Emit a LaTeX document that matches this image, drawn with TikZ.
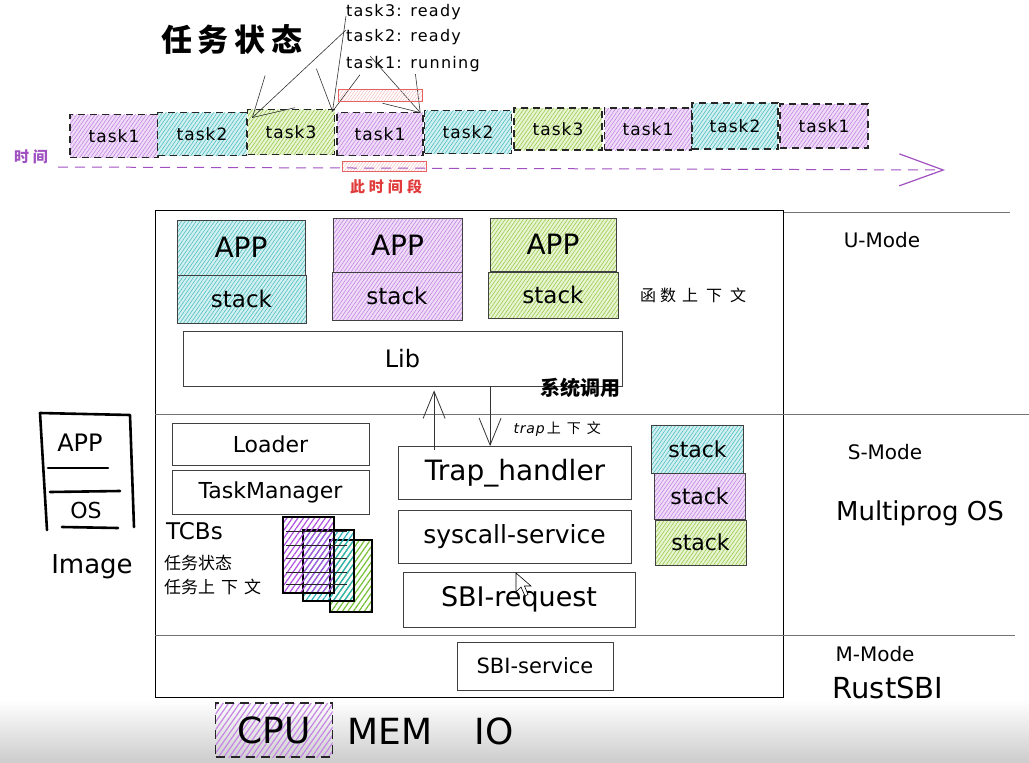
\documentclass[tikz,border=0pt]{standalone}
\usepackage{fontspec}
\setmainfont{DejaVu Sans}
\newfontfamily\cjk{Noto Sans CJK SC}
\usetikzlibrary{patterns.meta,arrows.meta,calc}
\definecolor{pfill}{HTML}{EFDDF8}\definecolor{pline}{HTML}{C585E4}
\definecolor{cfill}{HTML}{D3F0F0}\definecolor{cline}{HTML}{4EBFC4}
\definecolor{gfill}{HTML}{E8F4D2}\definecolor{gline}{HTML}{98CC4C}
\definecolor{spurple}{HTML}{B050E0}\definecolor{scyan}{HTML}{2BB3BE}\definecolor{sgreen}{HTML}{76C034}
\definecolor{tpurple}{HTML}{A050C0}
\definecolor{tred}{HTML}{E03A3A}
\newcommand{\fs}[1]{\fontsize{#1}{#1}\selectfont}
\newcommand{\ls}[1]{\addfontfeature{LetterSpace=#1}}
\tikzset{
  hatch/.style 2 args={preaction={fill=#1}, pattern={Lines[angle=55,distance=3pt,line width=0.6pt]}, pattern color=#2},
  thatch/.style={pattern={Lines[angle=55,distance=4.5pt,line width=1.2pt]}, pattern color=#1},
  taskbox/.style={draw=black!85, line width=1.1pt, dash pattern=on 7pt off 5pt, inner sep=0pt, font=\fs{17}\ls{6}},
  plainbox/.style={draw=black!75, line width=0.8pt, inner sep=0pt},
  redbox/.style={draw=tred!80, line width=0.7pt, inner sep=0pt, pattern={Lines[angle=55,distance=2.5pt,line width=0.4pt]}, pattern color=tred!40},
  sarrow/.style={draw=black!80, line width=0.8pt, -{Straight Barb[length=27pt,width=22pt,line width=0.8pt]}},
  larrow/.style={draw=black!80, line width=0.6pt, -{Straight Barb[length=#1,width=44pt,line width=0.6pt]}},
  divider/.style={draw=black!55, line width=1pt},
  modelab/.style={font=\fs{20}},
  statlab/.style={anchor=west, inner sep=0pt, font=\fs{16}\ls{8}},
}
\begin{document}
\begin{tikzpicture}[x=1pt,y=-1pt]
\useasboundingbox (0,0) rectangle (1029,763);
\shade[top color=white, bottom color=black!20] (0,700) rectangle (1029,763);

% ---------- title & status labels ----------
\node[font=\cjk\bfseries\fs{31}] (title) at (232,40) {任\hspace{6pt}务\hspace{6pt}状\hspace{6pt}态};
\node[statlab] (t3lab) at (346,12) {task3: ready};
\node[statlab] (t2lab) at (346,37) {task2: ready};
\node[statlab] (t1lab) at (346,64) {task1: running};

% ---------- task boxes ----------
\node[taskbox, hatch={pfill}{pline}, minimum width=88pt, minimum height=43pt] (b1) at (114,136) {task1};
\node[taskbox, hatch={cfill}{cline}, minimum width=89pt, minimum height=43pt] (b2) at (202,134) {task2};
\node[taskbox, hatch={gfill}{gline}, minimum width=87pt, minimum height=45pt] (b3) at (291,132) {task3};
\node[taskbox, hatch={pfill}{pline}, minimum width=86pt, minimum height=43pt] (b4) at (380,134) {task1};
\node[taskbox, hatch={cfill}{cline}, minimum width=87pt, minimum height=43pt] (b5) at (468,132) {task2};
\node[taskbox, hatch={gfill}{gline}, minimum width=88pt, minimum height=42pt] (b6) at (558,129) {task3};
\node[taskbox, hatch={pfill}{pline}, minimum width=87pt, minimum height=42pt] (b7) at (648,129) {task1};
\node[taskbox, hatch={cfill}{cline}, minimum width=86pt, minimum height=46pt] (b8) at (735,126) {task2};
\node[taskbox, hatch={pfill}{pline}, minimum width=88pt, minimum height=44pt] (b9) at (824,126) {task1};

% status arrows
\draw[larrow=38pt] ([yshift=7pt]t2lab.west) -- ([xshift=5pt,yshift=-9pt]b3.north west);
\draw[larrow=40pt] ([yshift=-4pt]t3lab.west) -- ([xshift=-4pt]b4.north west);
\draw[larrow=32pt] ([xshift=24pt,yshift=8pt]t1lab.west) -- ([xshift=-3pt,yshift=-1pt]b4.north east);

% red highlight boxes
\node[redbox, minimum width=84pt, minimum height=12pt] (r1) at (380,95) {};
\node[redbox, minimum width=84pt, minimum height=10pt] (r2) at (384,166) {};
\node[text=tred, font=\cjk\bfseries\fs{15}] (seg) at (386,187) {此\hspace{4pt}时\hspace{4pt}间\hspace{4pt}段};

% timeline
\node[text=tpurple, font=\cjk\bfseries\fs{15}] (timelab) at (31,157) {时\hspace{4pt}间};
\coordinate (tstart) at (58,167);
\coordinate (tend) at (945,170);
\draw[tpurple, line width=1pt, dash pattern=on 10pt off 7pt, -{Straight Barb[length=44pt,width=32pt,line width=1.2pt]}] (tstart) -- (tend);

% ---------- main system box ----------
\node[draw=black, line width=1.3pt, minimum width=628pt, minimum height=487pt, anchor=north west, inner sep=0pt] (os) at (155,210) {};
\draw[divider] (os.north east) ++(0,2) -- (1010,212);
\draw[divider] (155,414) -- (1029,414);
\draw[divider] (155,635) -- (1015,635);

% U-mode
\node[plainbox, hatch={cfill}{cline}, minimum width=128pt, minimum height=55pt, font=\fs{28}] (app1) at (241,247.5) {APP};
\node[plainbox, hatch={cfill}{cline}, minimum width=129pt, minimum height=48pt, font=\fs{23}] (stk1) at (241.5,299) {stack};
\node[plainbox, hatch={pfill}{pline}, minimum width=129pt, minimum height=54pt, font=\fs{28}] (app2) at (397.5,245) {APP};
\node[plainbox, hatch={pfill}{pline}, minimum width=130pt, minimum height=48pt, font=\fs{23}] (stk2) at (397,296) {stack};
\node[plainbox, hatch={gfill}{gline}, minimum width=126pt, minimum height=53pt, font=\fs{28}] (app3) at (553,244.5) {APP};
\node[plainbox, hatch={gfill}{gline}, minimum width=130pt, minimum height=46pt, font=\fs{23}] (stk3) at (553,295) {stack};
\node[font=\cjk\fs{16}] (fctx) at (693,295) {函\hspace{4pt}数\hspace{6pt}上\hspace{8pt}下\hspace{8pt}文};

\node[plainbox, fill=white, minimum width=439pt, minimum height=55pt, font=\fs{24}] (lib) at (402.5,358.5) {Lib};
\node[font=\cjk\bfseries\fs{20}] (syscall) at (580,388) {系统调用};

% S-mode
\node[plainbox, minimum width=233pt, minimum height=53pt, font=\fs{28}] (trap) at (515,473) {Trap\_handler};
\node[plainbox, minimum width=233pt, minimum height=53pt, font=\fs{25}] (sysserv) at (514.5,536.5) {syscall-service};
\node[plainbox, minimum width=232pt, minimum height=55pt, font=\fs{27}] (sbireq) at (519,599.5) {SBI-request};

\draw[sarrow, shorten >=4pt] ([xshift=36pt,yshift=-4pt]trap.north west) -- ([xshift=36pt]trap.north west |- lib.south);
\draw[sarrow] ([xshift=92pt]trap.north west |- lib.south) -- ([xshift=92pt]trap.north west);
\node[anchor=west, font=\fs{14}] (trapctx) at (510,429) {{\itshape\ls{6}trap}\hspace{2pt}{\cjk 上\hspace{6pt}下\hspace{6pt}文}};

\node[plainbox, minimum width=197pt, minimum height=42pt, font=\fs{22}] (loader) at (270.5,444) {Loader};
\node[plainbox, minimum width=197pt, minimum height=44pt, font=\fs{22}] (taskmgr) at (270.5,492) {TaskManager};

\node[anchor=west, font=\fs{23}, inner sep=0pt] (tcbs) at (166,531) {TCBs};
\node[anchor=west, font=\cjk\fs{17}, inner sep=0pt] (tstate) at (164,563) {任务状态};
\node[anchor=west, font=\cjk\fs{17}, inner sep=0pt] (tctx) at (164,587) {任务上\hspace{6pt}下\hspace{6pt}文};

\node[draw=black, line width=1.2pt, thatch=sgreen, minimum width=42pt, minimum height=72pt, inner sep=0pt] (tcb3) at (351,576) {};
\node[draw=black, line width=1.2pt, thatch=scyan, minimum width=51pt, minimum height=71pt, inner sep=0pt] (tcb2) at (328.5,565.5) {};
\node[draw=black, line width=1.2pt, thatch=spurple, minimum width=51pt, minimum height=76pt, inner sep=0pt] (tcb1) at (308.5,555) {};
\foreach \yy in {531,545,558,572,584}
  \draw[black!85, line width=0.9pt] ([xshift=4pt]tcb1.west |- 0,\yy) -- ([xshift=12pt]tcb1.east |- 0,\yy);

\node[plainbox, hatch={cfill}{cline}, minimum width=92pt, minimum height=48pt, font=\fs{22}] (sstk1) at (697.5,449) {stack};
\node[plainbox, hatch={pfill}{pline}, minimum width=91pt, minimum height=46pt, font=\fs{22}] (sstk2) at (699.5,496) {stack};
\node[plainbox, hatch={gfill}{gline}, minimum width=91pt, minimum height=45pt, font=\fs{22}] (sstk3) at (700.5,542.5) {stack};

% cursor
\draw[fill=white, line width=0.6pt] (516,573) -- (516,592) -- (521,587) -- (525,596) -- (528,594.5) -- (524.5,586) -- (531,586) -- cycle;

% M-mode
\node[plainbox, minimum width=156pt, minimum height=48pt, font=\fs{21}] (sbiserv) at (535,666) {SBI-service};

% mode labels
\node[modelab] (umode) at (882,240) {U-Mode};
\node[modelab] (smode) at (885,452) {S-Mode};
\node[font=\fs{26}] (mpos) at (920,513) {Multiprog OS};
\node[modelab] (mmode) at (875,654) {M-Mode};
\node[font=\fs{29}] (rustsbi) at (888,688) {RustSBI};

% hardware
\node[draw=black!85, line width=1.4pt, dash pattern=on 9pt off 6pt, thatch=pline, minimum width=117pt, minimum height=54pt, font=\fs{36}] (cpu) at (274,730) {CPU};
\node[font=\fs{36}] (mem) at (390,731) {MEM};
\node[font=\fs{36}] (io) at (494,731) {IO};

% image
\draw[line width=2.6pt, line cap=round, line join=round] (47,530) -- (40,413) -- (130,415) -- (134,527);
\draw[line width=2.6pt, line cap=round] (48,468) -- (108,468);
\draw[line width=2.6pt, line cap=round] (50,492) -- (120,491);
\draw[line width=2.6pt, line cap=round] (62,527) -- (118,528);
\node[font=\fs{24}] (imgapp) at (80,443) {APP};
\node[font=\fs{22}] (imgos) at (86,510) {OS};
\node[font=\fs{26}] (imglab) at (92,567) {Image};
\end{tikzpicture}
\end{document}
